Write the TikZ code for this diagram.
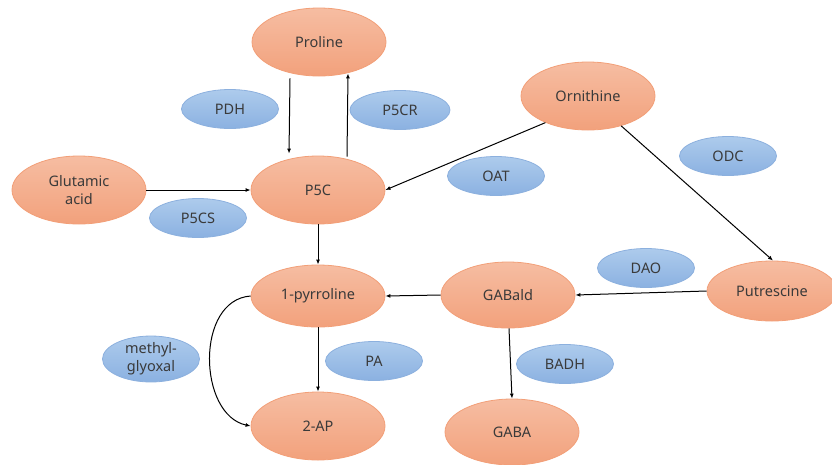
\documentclass[tikz,border=0pt]{standalone}
\usepackage{fontspec}
\setmainfont{Noto Sans}
\usetikzlibrary{arrows.meta,shapes.geometric}
\definecolor{txt}{HTML}{3A3A3A}
\definecolor{otop}{HTML}{F6BDA2}
\definecolor{obot}{HTML}{F2A17C}
\definecolor{oedge}{HTML}{F29F78}
\definecolor{btop}{HTML}{ADCBEC}
\definecolor{bbot}{HTML}{8BB1E1}
\definecolor{bedge}{HTML}{8CB0DE}
\tikzset{
  sub/.style={ellipse,draw=oedge,line width=0.8pt,top color=otop,bottom color=obot,
    minimum width=134pt,minimum height=68pt,inner sep=0pt,text=txt,
    font=\fontsize{14.5}{17.5}\selectfont,align=center},
  enz/.style={ellipse,draw=bedge,line width=0.8pt,top color=btop,bottom color=bbot,
    minimum width=97pt,minimum height=39pt,inner sep=0pt,text=txt,
    font=\fontsize{14.5}{16}\selectfont,align=center},
  arr/.style={draw=black,line width=1pt,-{Latex[length=5pt,width=4pt]}}
}
\begin{document}
\begin{tikzpicture}[x=1pt,y=-1pt]
\useasboundingbox (0,0) rectangle (832,464);
\clip (0,0) rectangle (832,464);
% substrates
\node[sub] (pro) at (319,42) {Proline};
\node[sub] (p5c) at (318,190) {P5C};
\node[sub] (glu) at (79,190) {Glutamic\\acid};
\node[sub] (orn) at (588,96) {Ornithine};
\node[sub,minimum height=62pt] (pyr) at (318,296) {1-pyrroline};
\node[sub] (ap) at (318,426) {2-AP};
\node[sub,minimum height=66pt] (gal) at (508,295) {GABald};
\node[sub,minimum width=130pt,minimum height=60pt] (put) at (772,291) {Putrescine};
\node[sub,minimum height=66pt] (gaba) at (512,432) {GABA};
% enzymes
\node[enz] (pdh) at (230,109) {PDH};
\node[enz,minimum width=100pt] (p5cr) at (400,110) {P5CR};
\node[enz] (oat) at (496,176) {OAT};
\node[enz] (odc) at (728,156) {ODC};
\node[enz] (p5cs) at (198,218) {P5CS};
\node[enz,minimum height=40pt,font=\fontsize{14.5}{18}\selectfont] (mg) at (151,359) {methyl-\\glyoxal};
\node[enz] (pa) at (374,361) {PA};
\node[enz] (dao) at (646,268) {DAO};
\node[enz] (badh) at (565,364) {BADH};
% arrows
\draw[arr] ([xshift=-29pt,yshift=-2pt]pro.south) -- ([xshift=-29pt,yshift=2pt]p5c.north);
\draw[arr] ([xshift=29pt,yshift=-1pt]p5c.north) -- ([xshift=29pt,yshift=3pt]pro.south);
\draw[arr] (glu.east) -- (p5c.west);
\draw[arr] (orn.212) -- (p5c.east);
\draw[arr] (orn.318) -- ([xshift=1pt]put.north);
\draw[arr] (p5c.south) -- (pyr.north);
\draw[arr] (put.west) -- (gal.east);
\draw[arr] (gal.west) -- (pyr.east);
\draw[arr] (pyr.south) -- (ap.north);
\draw[arr] ([xshift=1pt]gal.south) -- (gaba.north);
\draw[arr] (pyr.west) .. controls (195,300) and (198,415) .. (ap.west);
\end{tikzpicture}
\end{document}
